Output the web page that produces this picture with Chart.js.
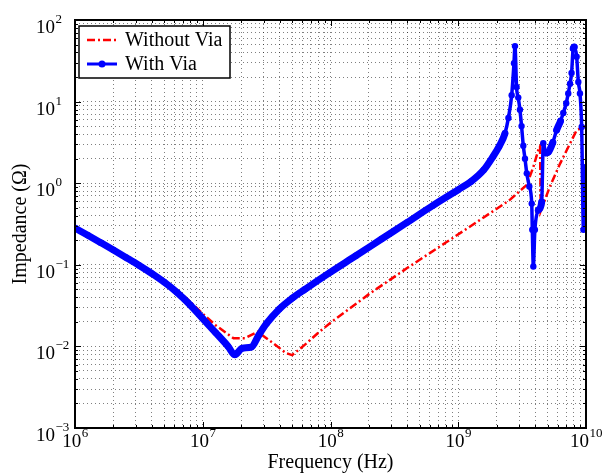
<!DOCTYPE html>
<html>
<head>
<meta charset="utf-8">
<script src="https://cdn.jsdelivr.net/npm/chart.js@4.4.1/dist/chart.umd.min.js"></script>
<style>
  html, body { margin: 0; padding: 0; background: #fff; }
</style>
</head>
<body>
<canvas id="chart" width="602" height="475"></canvas>
<script>
// values (Hz, ohm)
const freqWithVia = [
  1e6, 1.26e6, 1.58e6, 2.0e6, 2.51e6, 3.16e6, 3.98e6, 5.01e6, 6.31e6, 7.94e6,
  1e7, 1.26e7, 1.58e7, 1.78e7, 2.04e7, 2.4e7, 2.75e7, 3.16e7, 3.98e7, 5.01e7, 6.31e7,
  1e8, 1.58e8, 2.51e8, 3.98e8, 6.31e8,
  1e9, 1.26e9, 1.58e9, 1.86e9, 2.09e9, 2.32e9, 2.47e9, 2.62e9, 2.73e9, 2.78e9,
  2.86e9, 2.95e9, 3.04e9, 3.13e9, 3.23e9, 3.33e9, 3.44e9, 3.6e9, 3.76e9, 3.8e9,
  3.87e9, 3.98e9, 4.24e9, 4.5e9, 4.63e9, 4.86e9, 5.07e9, 5.5e9, 5.89e9, 6.31e9,
  6.64e9, 7.0e9, 7.26e9, 7.5e9, 7.71e9, 7.94e9, 8.09e9, 8.45e9, 8.71e9, 8.97e9,
  9.25e9, 9.55e9, 1e10
];
const zWithVia = [
  0.282, 0.230, 0.188, 0.152, 0.123, 0.0989, 0.0785, 0.061, 0.0457, 0.0324,
  0.0219, 0.0148, 0.0100, 0.0079, 0.0095, 0.0098, 0.0138, 0.0191, 0.0288, 0.0389, 0.0501,
  0.0813, 0.129, 0.207, 0.331, 0.531,
  0.832, 1.05, 1.45, 2.09, 2.82, 4.07, 6.31, 12.0, 29.5, 47.9,
  15.1, 11.2, 7.94, 5.01, 2.88, 2.0, 1.32, 0.912, 0.562, 0.269,
  0.0955, 0.269, 0.468, 0.589, 3.09, 2.34, 2.40, 3.16, 4.47, 5.75,
  7.24, 9.55, 12.6, 16.6, 22.4, 44.7, 46.8, 35.5, 17.4, 12.6,
  4.90, 0.269, 1.58
];
const freqWithoutVia = [
  1e6, 1.58e6, 2.51e6, 3.98e6, 6.31e6, 7.94e6, 1e7, 1.26e7, 1.74e7, 2.14e7,
  2.69e7, 3.55e7, 4.47e7, 5.01e7, 6.31e7, 7.94e7, 1e8, 2e8, 3.98e8, 7.94e8,
  1.58e9, 2.51e9, 3.44e9, 3.87e9, 4.24e9, 4.37e9, 4.42e9, 5.22e9, 6.27e9, 8.45e9, 1e10
];
const zWithoutVia = [
  0.282, 0.188, 0.123, 0.0785, 0.049, 0.0355, 0.0251, 0.0182, 0.0126, 0.0126,
  0.0151, 0.011, 0.0083, 0.0078, 0.0105, 0.0145, 0.0195, 0.0437, 0.0912, 0.186,
  0.380, 0.617, 0.955, 1.58, 2.57, 2.82, 0.457, 0.912, 1.74, 4.47, 5.0
];
const seriesNames = ['Without Via', 'With Via'];
const xExponents = [6, 7, 8, 9, 10];
const yExponents = [-3, -2, -1, 0, 1, 2];
const xTitle = 'Frequency (Hz)';
const yTitle = 'Impedance (Ω)';

const SERIF = '"Liberation Serif", "Times New Roman", serif';
const RED = '#ff0000';
const BLUE = '#0000ff';
const RED_DASH = [8, 3, 2, 3];

const toPoints = (xs, ys) => xs.map((x, i) => ({ x, y: ys[i] }));

const isPow10 = v => Math.abs(Math.log10(v) - Math.round(Math.log10(v))) < 1e-9;

// 1..9 x 10^n ticks, like a matlab log axis
const decadeTicks = (lo, hi) => {
  const t = [];
  for (let e = lo; e < hi; e++) {
    for (let m = 1; m < 10; m++) t.push({ value: m * Math.pow(10, e) });
  }
  t.push({ value: Math.pow(10, hi) });
  return t;
};

const expText = e => (e < 0 ? '\u2212' + Math.abs(e) : String(e));

const drawPow = (ctx, x, y, e, align) => {
  ctx.font = '19px ' + SERIF;
  const w10 = ctx.measureText('10').width;
  ctx.font = '13px ' + SERIF;
  const we = ctx.measureText(expText(e)).width;
  let start = align === 'center' ? x - (w10 + we) / 2 : x - w10;
  ctx.textAlign = 'left';
  ctx.textBaseline = 'alphabetic';
  ctx.font = '19px ' + SERIF;
  ctx.fillText('10', start, y);
  ctx.font = '13px ' + SERIF;
  ctx.fillText(expText(e), start + w10 + 0.5, y - 10);
};

const axesDecor = {
  id: 'axesDecor',
  afterDraw(chart) {
    const { ctx, chartArea: a, scales: { x, y } } = chart;
    ctx.save();

    // inward tick marks on all four sides
    ctx.strokeStyle = '#000';
    ctx.lineWidth = 1;
    ctx.beginPath();
    x.ticks.forEach(t => {
      const px = Math.round(x.getPixelForValue(t.value)) + 0.5;
      const len = isPow10(t.value) ? 6 : 3;
      ctx.moveTo(px, a.bottom); ctx.lineTo(px, a.bottom - len);
      ctx.moveTo(px, a.top); ctx.lineTo(px, a.top + len);
    });
    y.ticks.forEach(t => {
      const py = Math.round(y.getPixelForValue(t.value)) + 0.5;
      const len = isPow10(t.value) ? 6 : 3;
      ctx.moveTo(a.left, py); ctx.lineTo(a.left + len, py);
      ctx.moveTo(a.right, py); ctx.lineTo(a.right - len, py);
    });
    ctx.stroke();

    ctx.lineWidth = 2;
    ctx.strokeRect(a.left, a.top, a.right - a.left, a.bottom - a.top);

    // tick labels
    ctx.fillStyle = '#000';
    xExponents.forEach(e => {
      drawPow(ctx, x.getPixelForValue(Math.pow(10, e)), a.bottom + 19, e, 'center');
    });
    yExponents.forEach(e => {
      drawPow(ctx, a.left - 20, y.getPixelForValue(Math.pow(10, e)) + 13, e, 'right');
    });

    // axis titles
    ctx.font = '20px ' + SERIF;
    ctx.textAlign = 'center';
    ctx.textBaseline = 'middle';
    ctx.fillText(xTitle, (a.left + a.right) / 2, 463);
    ctx.save();
    ctx.translate(21, (a.top + a.bottom) / 2);
    ctx.rotate(-Math.PI / 2);
    ctx.fillText(yTitle, 0, 0);
    ctx.restore();

    // legend
    const lx = 79, ly = 26, lw = 151, lh = 52;
    ctx.fillStyle = '#fff';
    ctx.fillRect(lx, ly, lw, lh);
    ctx.strokeStyle = '#000';
    ctx.lineWidth = 1.5;
    ctx.strokeRect(lx, ly, lw, lh);

    ctx.lineWidth = 2.5;
    ctx.strokeStyle = RED;
    ctx.setLineDash(RED_DASH);
    ctx.beginPath();
    ctx.moveTo(87, 40); ctx.lineTo(117, 40);
    ctx.stroke();
    ctx.setLineDash([]);

    ctx.lineWidth = 3;
    ctx.strokeStyle = BLUE;
    ctx.beginPath();
    ctx.moveTo(87, 64); ctx.lineTo(117, 64);
    ctx.stroke();
    ctx.fillStyle = BLUE;
    ctx.beginPath();
    ctx.arc(102, 64, 3.5, 0, Math.PI * 2);
    ctx.fill();

    ctx.fillStyle = '#000';
    ctx.font = '20px ' + SERIF;
    ctx.textAlign = 'left';
    ctx.textBaseline = 'middle';
    ctx.fillText(seriesNames[0], 125, 41);
    ctx.fillText(seriesNames[1], 125, 65);

    ctx.restore();
  }
};

const gridOpts = { color: 'rgba(0,0,0,0.5)', lineWidth: 1, drawTicks: false };
const borderOpts = { display: false, dash: [1, 3] };

new Chart(document.getElementById('chart'), {
  type: 'line',
  data: {
    datasets: [
      {
        label: seriesNames[1],
        data: toPoints(freqWithVia, zWithVia),
        borderColor: BLUE,
        backgroundColor: BLUE,
        borderWidth: 3.5,
        borderJoinStyle: 'round',
        borderCapStyle: 'round',
        pointRadius: 3.2,
        pointBorderWidth: 0,
        pointBackgroundColor: BLUE,
        cubicInterpolationMode: 'monotone',
        order: 0,
        // where points are close together the markers merge into a thick band
        segment: {
          borderWidth: c => {
            const dx = Math.abs(c.p1.x - c.p0.x);
            const dy = Math.abs(c.p1.y - c.p0.y);
            return dy > 2.5 * dx ? 3.5 : 7;
          }
        }
      },
      {
        label: seriesNames[0],
        data: toPoints(freqWithoutVia, zWithoutVia),
        borderColor: RED,
        borderWidth: 2.5,
        borderDash: RED_DASH,
        pointRadius: 0,
        tension: 0,
        order: 1
      }
    ]
  },
  options: {
    responsive: false,
    animation: false,
    events: [],
    devicePixelRatio: 1,
    layout: { padding: { left: 75, right: 16, top: 20, bottom: 47 } },
    plugins: { legend: { display: false }, tooltip: { enabled: false } },
    scales: {
      x: {
        type: 'logarithmic',
        min: 1e6,
        max: 1e10,
        ticks: { display: false, autoSkip: false },
        grid: gridOpts,
        border: borderOpts,
        afterBuildTicks: axis => { axis.ticks = decadeTicks(6, 10); }
      },
      y: {
        type: 'logarithmic',
        min: 1e-3,
        max: 1e2,
        ticks: { display: false, autoSkip: false },
        grid: gridOpts,
        border: borderOpts,
        afterBuildTicks: axis => { axis.ticks = decadeTicks(-3, 2); }
      }
    }
  },
  plugins: [axesDecor]
});
</script>
</body>
</html>
